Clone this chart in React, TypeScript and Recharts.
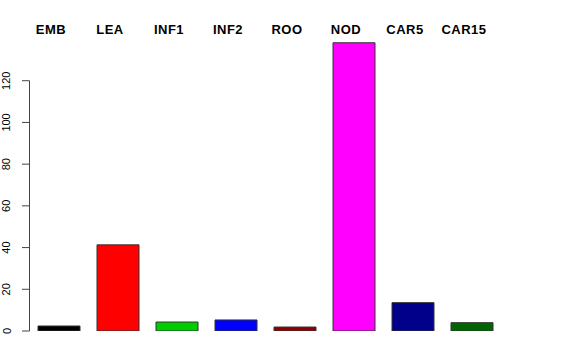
import { BarChart, Bar, XAxis, YAxis, Cell, usePlotArea } from 'recharts'

const categories = ['EMB', 'LEA', 'INF1', 'INF2', 'ROO', 'NOD', 'CAR5', 'CAR15']
const values = [2.4, 41.3, 4.3, 5.3, 1.9, 138.2, 13.6, 4.0]
const barColors = ['#000000', '#FF0000', '#00CD00', '#0000FF', '#8B0000', '#FF00FF', '#00008B', '#006400']
const yTicks = [0, 20, 40, 60, 80, 100, 120]
const yMax = 140

const data = categories.map((name, i) => ({ name, value: values[i] }))

const font = 'Liberation Sans, Arial, Helvetica, sans-serif'
const axisColor = '#444'

// tick mark plus sideways label, like R's default axis
const YTick = ({ x, y, payload }: any) => (
    <g>
        <line x1={x} x2={x + 7.5} y1={y} y2={y} stroke={axisColor} strokeWidth={1} />
        <text
            x={x - 11.5}
            y={y}
            transform={`rotate(-90, ${x - 11.5}, ${y})`}
            textAnchor="middle"
            fontFamily={font}
            fontSize={11}
            fill="#000"
        >
            {payload.value}
        </text>
    </g>
)

// category names sit above the bars, nudged a bit left
const TopTick = ({ x, y, payload }: any) => (
    <text
        x={x - 7.5}
        y={y}
        textAnchor="middle"
        fontFamily={font}
        fontSize={13}
        fontWeight="bold"
        letterSpacing={0.5}
        fill="#000"
    >
        {payload.value}
    </text>
)

// axis line only spans the labelled range (0..120), not the whole plot
function AxisSpine() {
    const plot = typeof usePlotArea === 'function' ? usePlotArea() : null
    if (!plot) return null
    const toY = (v: number) => plot.y + plot.height * (1 - v / yMax)
    const top = yTicks[yTicks.length - 1]
    return (
        <line
            x1={plot.x + 0.5}
            x2={plot.x + 0.5}
            y1={toY(0)}
            y2={toY(top)}
            stroke={axisColor}
            strokeWidth={1}
        />
    )
}

export default function App() {
    return (
        <div style={{ position: 'absolute', left: 0, top: 0, width: 576, height: 360, background: '#fff' }}>
            <BarChart
                width={576}
                height={360}
                data={data}
                margin={{ top: 0, right: 75, left: 0, bottom: 29 }}
                barSize={42}
            >
                <XAxis
                    dataKey="name"
                    orientation="top"
                    height={39}
                    axisLine={false}
                    tickLine={false}
                    tick={(p: any) => <TopTick {...p} y={33.5} />}
                    interval={0}
                />
                <YAxis
                    type="number"
                    domain={[0, yMax]}
                    ticks={yTicks}
                    width={29}
                    axisLine={false}
                    tickLine={false}
                    tickSize={7}
                    tickMargin={0}
                    tick={(p: any) => <YTick {...p} />}
                    allowDataOverflow
                />
                <Bar dataKey="value" stroke="#333" strokeWidth={1} isAnimationActive={false}>
                    {data.map((d, i) => (
                        <Cell key={d.name} fill={barColors[i]} />
                    ))}
                </Bar>
                <AxisSpine />
            </BarChart>
        </div>
    )
}
